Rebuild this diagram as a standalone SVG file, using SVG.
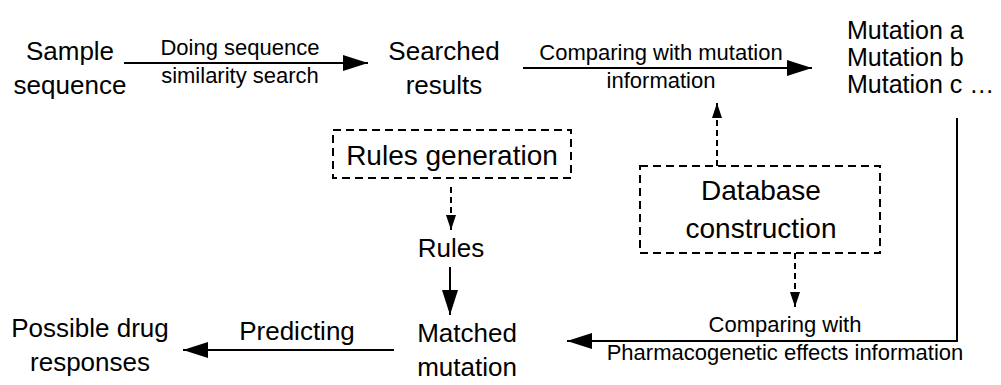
<svg xmlns="http://www.w3.org/2000/svg" width="1001" height="385" viewBox="0 0 1001 385">
<style>
text{font-family:"Liberation Sans",Arial,sans-serif;fill:#000}
.n{font-size:26px}
.m{font-size:25px}
.e{font-size:22px}
.b{font-size:28px}
.c{text-anchor:middle}
.box{fill:none;stroke:#000;stroke-width:2;stroke-dasharray:8 5}
.s{fill:none;stroke:#000;stroke-width:2;marker-end:url(#ah)}
.d{fill:none;stroke:#000;stroke-width:2;stroke-dasharray:6 4;marker-end:url(#ahd)}
</style>
<defs>
<marker id="ah" markerUnits="userSpaceOnUse" markerWidth="26" markerHeight="18" refX="25" refY="9" orient="auto"><path d="M0,1 L25,9 L0,17 z" fill="#000"/></marker>
<marker id="ahd" markerUnits="userSpaceOnUse" markerWidth="16" markerHeight="12" refX="15" refY="6" orient="auto"><path d="M0,1 L15,6 L0,11 z" fill="#000"/></marker>
</defs>
<rect width="1001" height="385" fill="#fff"/>
<g id="connectors">
<line class="s" x1="124" y1="63" x2="368" y2="63"/>
<line class="s" x1="523" y1="68" x2="812" y2="68"/>
<line class="d" x1="717" y1="166" x2="717" y2="103"/>
<line class="d" x1="451" y1="187" x2="451" y2="230"/>
<line class="s" x1="450" y1="267" x2="450" y2="315"/>
<line class="d" x1="795" y1="253" x2="795" y2="307"/>
<polyline class="s" points="957,118 957,341 567,341"/>
<line class="s" x1="394" y1="350" x2="183" y2="350"/>
<text class="e c" x="240" y="55">Doing sequence</text>
<text class="e c" x="240" y="83">similarity search</text>
<text class="e c" x="661" y="60">Comparing with mutation</text>
<text class="e c" x="661" y="88">information</text>
<text class="e c" x="785" y="332">Comparing with</text>
<text class="e c" x="785" y="360">Pharmacogenetic effects information</text>
<text class="n c" x="297" y="340">Predicting</text>
</g>
<g id="sample"><text class="n c" x="70" y="60">Sample</text><text class="n c" x="70" y="94">sequence</text></g>
<g id="searched"><text class="n c" x="444" y="60">Searched</text><text class="n c" x="444" y="94">results</text></g>
<g id="mutations"><text class="m" x="847" y="39">Mutation a</text><text class="m" x="847" y="66">Mutation b</text><text class="m" x="847" y="93">Mutation c …</text></g>
<g id="rulesgen"><rect class="box" x="333" y="130" width="238" height="48"/><text class="b c" x="452" y="165">Rules generation</text></g>
<g id="rules"><text class="n c" x="451" y="257">Rules</text></g>
<g id="database"><rect class="box" x="640" y="166" width="240" height="87"/><text class="b c" x="761" y="200">Database</text><text class="b c" x="761" y="238">construction</text></g>
<g id="matched"><text class="n c" x="467" y="342">Matched</text><text class="n c" x="467" y="376">mutation</text></g>
<g id="drug"><text class="n c" x="90" y="337">Possible drug</text><text class="n c" x="90" y="371">responses</text></g>
</svg>
